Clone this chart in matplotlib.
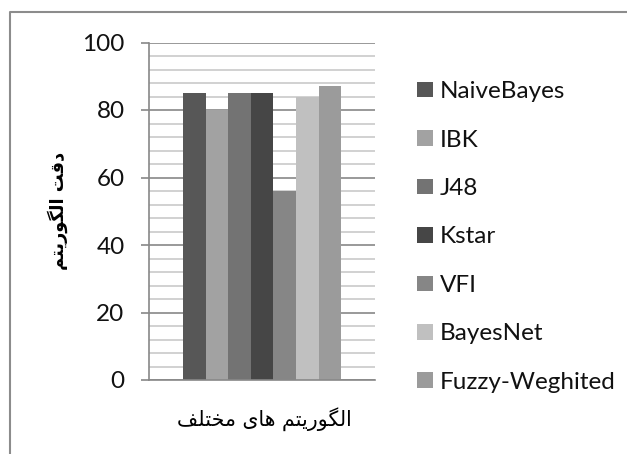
import matplotlib
matplotlib.use("Agg")
import matplotlib.pyplot as plt
from matplotlib.lines import Line2D
from matplotlib.ticker import MultipleLocator

## data
algorithms = ["NaiveBayes", "IBK", "J48", "Kstar", "VFI", "BayesNet", "Fuzzy-Weghited"]
accuracy = [85, 80, 85, 85, 56, 84, 87]
y_label_fa = "دقت الگوریتم"
x_label_fa = "الگوریتم های مختلف"

## grey shades used for the bars
colors = ['#575757', '#a2a2a2', '#737373', '#464646', '#868686', '#c0c0c0', '#9b9b9b']

## matplotlib does not shape arabic script, so pick the presentation forms by hand
## (isolated, final, initial, medial); two-form letters do not join to the next letter
FORMS = {
    'ا': ('\uFE8D', '\uFE8E'),
    'د': ('\uFEA9', '\uFEAA'),
    'ر': ('\uFEAD', '\uFEAE'),
    'و': ('\uFEED', '\uFEEE'),
    'ل': ('\uFEDD', '\uFEDE', '\uFEDF', '\uFEE0'),
    'گ': ('\uFB92', '\uFB93', '\uFB94', '\uFB95'),
    'ی': ('\uFBFC', '\uFBFD', '\uFBFE', '\uFBFF'),
    'ت': ('\uFE95', '\uFE96', '\uFE97', '\uFE98'),
    'م': ('\uFEE1', '\uFEE2', '\uFEE3', '\uFEE4'),
    'ه': ('\uFEE9', '\uFEEA', '\uFEEB', '\uFEEC'),
    'ق': ('\uFED5', '\uFED6', '\uFED7', '\uFED8'),
    'ف': ('\uFED1', '\uFED2', '\uFED3', '\uFED4'),
    'خ': ('\uFEA5', '\uFEA6', '\uFEA7', '\uFEA8'),
}


def shape(text):
    out = []
    for i, ch in enumerate(text):
        if ch not in FORMS:
            out.append(ch)
            continue
        prev = text[i - 1] if i > 0 else ' '
        nxt = text[i + 1] if i + 1 < len(text) else ' '
        joins_prev = prev in FORMS and len(FORMS[prev]) == 4
        joins_next = len(FORMS[ch]) == 4 and nxt in FORMS
        f = FORMS[ch]
        if joins_prev and joins_next:
            out.append(f[3])
        elif joins_prev:
            out.append(f[1])
        elif joins_next:
            out.append(f[2])
        else:
            out.append(f[0])
    return ''.join(out)[::-1]      # right to left


plt.rcParams['font.family'] = ['Lato', 'DejaVu Sans']

fig = plt.figure(figsize=(6.27, 4.54), dpi=100)
ax = fig.add_axes([149.3 / 627, 1 - 380 / 454, 225.7 / 627, 337.5 / 454])

## one bar for each algorithm, all in the same group
positions = list(range(len(algorithms)))
bars = []
for j in positions:
    b = ax.bar(positions[j], accuracy[j], width=1.0, color=colors[j], label=algorithms[j], zorder=2)
    bars.append(b)

## style the axes
ax.set_xlim(-2.0, 8.0)
ax.set_ylim(0, 100)
ax.set_xticks([])
ax.yaxis.set_major_locator(MultipleLocator(20))
ax.yaxis.set_minor_locator(MultipleLocator(4))
ax.grid(axis='y', which='major', color='#888888', linewidth=1.2, zorder=0)
ax.grid(axis='y', which='minor', color='#cacaca', linewidth=1.2, zorder=0)
ax.set_axisbelow(True)
ax.tick_params(axis='y', which='major', length=5.8, width=1.2, color='#888888',
               pad=12, labelsize=17.5, labelcolor='#111111')
ax.tick_params(axis='y', which='minor', length=0)
for side in ['top', 'right']:
    ax.spines[side].set_visible(False)
ax.spines['left'].set_color('#888888')
ax.spines['left'].set_linewidth(1.2)
ax.spines['bottom'].set_color('#888888')
ax.spines['bottom'].set_linewidth(1.2)

## persian axis titles
ax.set_ylabel(shape(y_label_fa), family=['DejaVu Sans'], fontweight='bold', fontsize=12.8, va='center')
ax.yaxis.set_label_coords(-0.405, 0.5)
ax.set_xlabel(shape(x_label_fa), family=['DejaVu Sans'], fontsize=14.8, va='center')
ax.xaxis.set_label_coords(0.508, -0.116)

## legend on the right
fig.legend(handles=bars, labels=algorithms, loc='center left',
           bbox_to_anchor=(416.7 / 627, 1 - 237 / 454), frameon=False, fontsize=17.5,
           borderpad=0, borderaxespad=0, handlelength=0.68, handleheight=0.62, handletextpad=0.28,
           labelspacing=1.13, labelcolor='#111111')

## frame round the chart (top and left edges are visible)
fig.add_artist(Line2D([10 / 627, 10 / 627, 1], [0, 1 - 12 / 454, 1 - 12 / 454],
                      transform=fig.transFigure, color='#8c8c8c', linewidth=1.5))

fig.savefig("out.png", dpi=100)
